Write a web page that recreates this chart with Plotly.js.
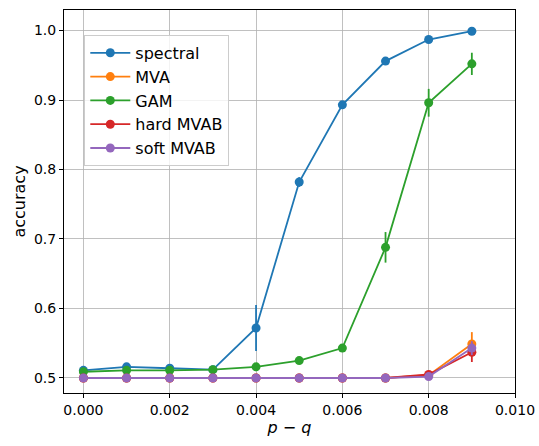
<!DOCTYPE html>
<html>
<head>
<meta charset="utf-8">
<script src="https://cdn.plot.ly/plotly-3.0.1.min.js"></script>
<style>html,body{margin:0;padding:0;background:#fff;}#chart{width:539px;height:446px;}</style>
</head>
<body>
<div id="chart"></div>
<script>
const pq = [0.000, 0.001, 0.002, 0.003, 0.004, 0.005, 0.006, 0.007, 0.008, 0.009];

const spectral = [0.511, 0.516, 0.514, 0.512, 0.572, 0.782, 0.893, 0.956, 0.987, 0.999];
const spectralErr = [0.002, 0.002, 0.002, 0.002, 0.033, 0.007, 0.003, 0.003, 0.002, 0.001];

const mva = [0.500, 0.500, 0.500, 0.500, 0.500, 0.500, 0.500, 0.500, 0.504, 0.549];
const mvaErr = [0.000, 0.000, 0.000, 0.000, 0.000, 0.000, 0.000, 0.000, 0.002, 0.017];

const gam = [0.509, 0.511, 0.511, 0.512, 0.516, 0.525, 0.543, 0.688, 0.896, 0.952];
const gamErr = [0.002, 0.002, 0.002, 0.002, 0.002, 0.002, 0.003, 0.022, 0.020, 0.016];

const hardMvab = [0.500, 0.500, 0.500, 0.500, 0.500, 0.500, 0.500, 0.500, 0.505, 0.537];
const hardMvabErr = [0.000, 0.000, 0.000, 0.000, 0.000, 0.000, 0.000, 0.000, 0.002, 0.014];

const softMvab = [0.500, 0.500, 0.500, 0.500, 0.500, 0.500, 0.500, 0.500, 0.502, 0.543];
const softMvabErr = [0.000, 0.000, 0.000, 0.000, 0.000, 0.000, 0.000, 0.000, 0.001, 0.010];

const seriesNames = ['spectral', 'MVA', 'GAM', 'hard MVAB', 'soft MVAB'];
const seriesVals = [spectral, mva, gam, hardMvab, softMvab];
const seriesErrs = [spectralErr, mvaErr, gamErr, hardMvabErr, softMvabErr];
const colors = ['#1f77b4', '#ff7f0e', '#2ca02c', '#d62728', '#9467bd'];

const traces = seriesNames.map((name, i) => ({
  x: pq,
  y: seriesVals[i],
  name: name,
  type: 'scatter',
  mode: 'lines+markers',
  line: {color: colors[i], width: 1.8},
  marker: {color: colors[i], size: 9},
  error_y: {type: 'data', array: seriesErrs[i], visible: true, color: colors[i], thickness: 1.8, width: 0}
}));

const tickFont = {family: 'DejaVu Sans, sans-serif', size: 14, color: '#000'};
const titleFont = {family: 'DejaVu Sans, sans-serif', size: 16, color: '#000'};

const layout = {
  width: 539,
  height: 446,
  margin: {l: 64, r: 24, t: 10, b: 53},
  paper_bgcolor: '#fff',
  plot_bgcolor: '#fff',
  font: tickFont,
  showlegend: true,
  legend: {
    x: 0.045, y: 0.935, xanchor: 'left', yanchor: 'top',
    bgcolor: 'rgba(255,255,255,0.8)', bordercolor: '#cccccc', borderwidth: 1,
    font: {family: 'DejaVu Sans, sans-serif', size: 16, color: '#000'},
    itemwidth: 40,
    tracegroupgap: 0
  },
  xaxis: {
    range: [-0.00045, 0.010],
    tickvals: [0, 0.002, 0.004, 0.006, 0.008, 0.010],
    ticktext: ['0.000', '0.002', '0.004', '0.006', '0.008', '0.010'],
    showgrid: true, gridcolor: '#b0b0b0', gridwidth: 0.8,
    zeroline: false,
    showline: true, linecolor: '#000', linewidth: 1, mirror: true,
    ticks: 'outside', ticklen: 4, tickcolor: '#000',
    tickfont: tickFont,
    title: {text: '<i>p</i> − <i>q</i>', font: titleFont, standoff: 4}
  },
  yaxis: {
    range: [0.4784, 1.0295],
    tickvals: [0.5, 0.6, 0.7, 0.8, 0.9, 1.0],
    ticktext: ['0.5', '0.6', '0.7', '0.8', '0.9', '1.0'],
    showgrid: true, gridcolor: '#b0b0b0', gridwidth: 0.8,
    zeroline: false,
    showline: true, linecolor: '#000', linewidth: 1, mirror: true,
    ticks: 'outside', ticklen: 4, tickcolor: '#000',
    tickfont: tickFont,
    title: {text: 'accuracy', font: titleFont, standoff: 4}
  }
};

Plotly.newPlot('chart', traces, layout, {displayModeBar: false, staticPlot: true});
</script>
</body>
</html>
